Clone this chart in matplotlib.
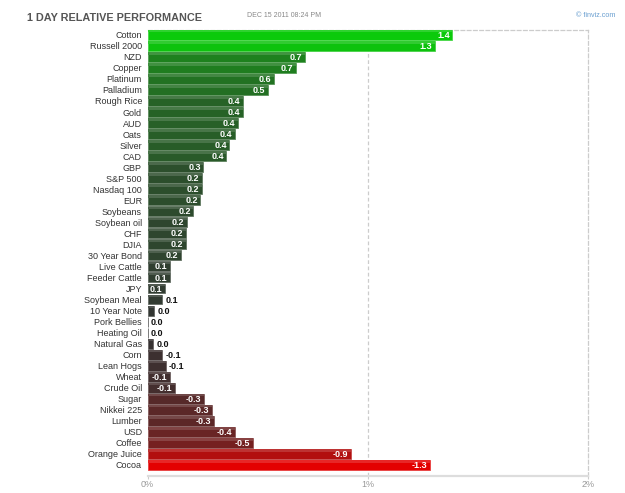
import numpy as np
import matplotlib
matplotlib.use("Agg")
import matplotlib.pyplot as plt

# ==============================
# 1. DATA
# ==============================

names = [
    "Cotton", "Russell 2000", "NZD", "Copper", "Platinum", "Palladium",
    "Rough Rice", "Gold", "AUD", "Oats", "Silver", "CAD", "GBP",
    "S&P 500", "Nasdaq 100", "EUR", "Soybeans", "Soybean oil", "CHF",
    "DJIA", "30 Year Bond", "Live Cattle", "Feeder Cattle", "JPY",
    "Soybean Meal", "10 Year Note", "Pork Bellies", "Heating Oil",
    "Natural Gas", "Corn", "Lean Hogs", "Wheat", "Crude Oil", "Sugar",
    "Nikkei 225", "Lumber", "USD", "Coffee", "Orange Juice", "Cocoa",
]

# percent change, 1 day
change = [
    1.384, 1.304, 0.713, 0.674, 0.572, 0.545,
    0.434, 0.434, 0.410, 0.396, 0.372, 0.358, 0.254,
    0.246, 0.246, 0.240, 0.208, 0.178, 0.175,
    0.175, 0.152, 0.100, 0.100, 0.080,
    0.065, 0.030, 0.0, 0.0,
    -0.026, -0.065, -0.083, -0.101, -0.124, -0.257,
    -0.292, -0.301, -0.395, -0.478, -0.924, -1.283,
]

x_ticks = [0, 1, 2]
x_tick_labels = ["0%", "1%", "2%"]

title_text = "1 DAY RELATIVE PERFORMANCE"
date_text = "DEC 15 2011 08:24 PM"
credit_text = "\u00a9 finviz.com"


# ==============================
# 2. COLOURS
# ==============================

def bar_color(v):
    if v >= 0:
        t = min(v / 1.4, 1.0)
        return (0.20 - 0.16 * t, 0.20 + 0.60 * t, 0.20 - 0.16 * t)
    t = min(-v / 1.3, 1.0)
    return (0.20 + 0.70 * t, 0.20 - 0.20 * t, 0.20 - 0.20 * t)


def lighter(c, k=0.35):
    return tuple(ch + (1 - ch) * k for ch in c)


# ==============================
# 3. PLOT
# ==============================

plt.rcParams["font.family"] = ["Liberation Sans", "DejaVu Sans"]

fig = plt.figure(figsize=(6.25, 4.93), dpi=100)
ax = fig.add_axes([0.236, 0.0345, 0.705, 0.905])

y = np.arange(len(names))
mag = np.abs(change)
colors = [bar_color(v) for v in change]

ax.barh(y, mag, height=0.9, color=colors, edgecolor=[lighter(c, 0.25) for c in colors],
        linewidth=0.6, zorder=3)
# top highlight to mimic gradient
ax.barh(y - 0.32, mag, height=0.22, color=[lighter(c, 0.15) for c in colors],
        linewidth=0, zorder=4)

for i, v in enumerate(change):
    s = f"{v:.1f}"
    if s == "-0.0":
        s = "0.0"
    m = abs(v)
    if m >= 0.021 * len(s) + 0.01:
        ax.text(m - 0.012, i + 0.05, s, ha="right", va="center", color="white",
                fontsize=6.5, fontweight="bold", zorder=5)
    else:
        ax.text(m + 0.015, i + 0.05, s, ha="left", va="center", color="#111111",
                fontsize=6.5, fontweight="bold", zorder=5)

ax.set_xlim(0, 2)
ax.set_ylim(40.0, -0.45)

ax.set_yticks(y)
ax.set_yticklabels(names, fontsize=6.5, color="#333333")
ax.tick_params(axis="y", length=0, pad=4)

ax.set_xticks(x_ticks)
ax.set_xticklabels(x_tick_labels, fontsize=6.5, color="#999999")
ax.tick_params(axis="x", length=2, width=0.8, color="#cccccc", pad=1)

# grid & frame
ax.axvline(1, color="#cccccc", linestyle=(0, (3, 2)), linewidth=0.9, zorder=1)
ax.spines["left"].set_visible(False)
for side in ["top", "right"]:
    ax.spines[side].set_color("#cccccc")
    ax.spines[side].set_linestyle((0, (3, 2)))
    ax.spines[side].set_linewidth(0.9)
ax.spines["bottom"].set_color("#dddddd")
ax.spines["bottom"].set_linewidth(1.6)

# header texts
fig.text(0.043, 0.963, title_text, fontsize=7.8, fontweight="bold", color="#555555",
         va="center", ha="left")
fig.text(0.395, 0.968, date_text, fontsize=5, color="#888888", va="center", ha="left")
fig.text(0.985, 0.968, credit_text, fontsize=5.2, color="#6a9fd0", va="center", ha="right")

fig.savefig("out.png", dpi=100)
